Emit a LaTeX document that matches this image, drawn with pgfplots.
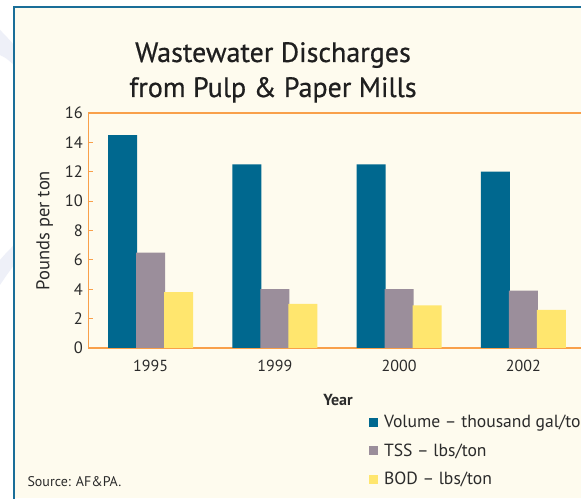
\documentclass[border=0pt]{standalone}
\usepackage{pgfplots}
\pgfplotsset{compat=1.18}
\usepackage{fontspec}
\setmainfont{PT Sans}
\newfontfamily\titlefont[FakeBold=0.6]{PT Sans}
\definecolor{volc}{HTML}{00688F}
\definecolor{tssc}{HTML}{9B8E9B}
\definecolor{bodc}{HTML}{FFE66E}
\definecolor{bgc}{HTML}{FEFBEE}
\definecolor{brd}{HTML}{1A6E98}
\definecolor{axc}{HTML}{F9A04A}
\definecolor{txt}{HTML}{2B2B2B}
\definecolor{lav}{HTML}{EEF0F8}
\begin{document}
\begin{tikzpicture}
\path[use as bounding box] (0pt,0pt) rectangle (581pt,498pt);
\clip (0pt,0pt) rectangle (581pt,498pt);
\fill[white] (0pt,0pt) rectangle (581pt,498pt);
\fill[lav] (0pt,468pt) .. controls (6pt,462pt) .. (14pt,453pt) -- (14pt,433pt) .. controls (6pt,440pt) .. (0pt,443pt) -- cycle;
\fill[lav] (0pt,238pt) .. controls (6pt,245pt) .. (14pt,253pt) -- (14pt,233pt) .. controls (6pt,222pt) .. (0pt,213pt) -- cycle;
\fill[bgc] (14pt,0pt) rectangle (581pt,491pt);
\draw[brd,line width=2pt] (14pt,-5pt) -- (14pt,491pt) -- (590pt,491pt);
\node[text=black!88,font=\titlefont\fontsize{28}{35}\selectfont,align=center,anchor=base] at (273pt,401pt) {Wastewater Discharges\\from Pulp \& Paper Mills};
\begin{axis}[
  at={(88.5pt,150pt)}, anchor=south west,
  scale only axis, width=497pt, height=235pt,
  xmin=-0.5, xmax=3.5, ymin=0, ymax=16,
  ybar=-1pt, bar width=29pt,
  xtick={0,1,2,3}, xticklabels={1995,1999,2000,2002},
  ytick={0,2,...,16},
  axis line style={axc,line width=1.6pt},
  major tick length=4pt,
  xtick style={draw=none},
  ytick style={axc,line width=1pt},
  tick align=inside,
  /pgf/number format/assume math mode=true,
  yticklabel style={txt,font=\fontsize{16.5}{18}\selectfont,xshift=-2pt},
  xticklabel style={txt,font=\fontsize{16}{18}\selectfont,yshift=-9pt},
  ylabel={Pounds per ton},
  ylabel style={txt,font=\fontsize{18.5}{20}\selectfont,at={(axis description cs:-0.088,0.5)},anchor=center},
  xlabel={\textbf{Year}},
  xlabel style={txt,font=\fontsize{16}{18}\selectfont,at={(axis description cs:0.502,-0.245)},anchor=base},
  legend cell align=left,
  legend style={draw=none,fill=none,at={(axis description cs:0.563,-0.277)},anchor=north west,
    font=\fontsize{17.6}{19}\selectfont,text=txt,row sep=10.5pt,inner sep=0pt,
    nodes={inner xsep=6.5pt}},
  legend image code/.code={\path[#1,draw=none] (0pt,-4.5pt) rectangle (9pt,4.5pt);},
]
\addplot[fill=volc,draw=none] coordinates {(0,14.5) (1,12.5) (2,12.5) (3,12.0)};
\addplot[fill=tssc,draw=none] coordinates {(0,6.5) (1,4.0) (2,4.0) (3,3.9)};
\addplot[fill=bodc,draw=none] coordinates {(0,3.8) (1,3.0) (2,2.9) (3,2.6)};
\legend{Volume -- thousand gal/ton, TSS -- lbs/ton, BOD -- lbs/ton}
\end{axis}
\node[txt,font=\fontsize{14}{16}\selectfont,anchor=base west] at (24pt,12pt) {Source: AF\&PA.};
\end{tikzpicture}
\end{document}
